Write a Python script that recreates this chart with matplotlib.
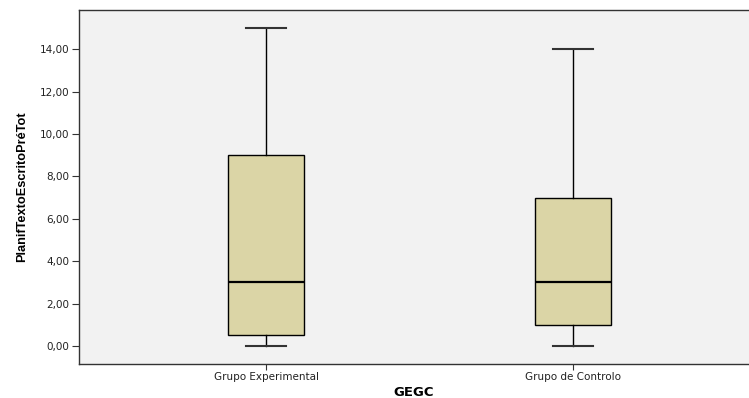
import matplotlib
matplotlib.use('Agg')
import matplotlib.pyplot as plt

# dados
grupos = ['Grupo Experimental', 'Grupo de Controlo']
minimos = [0, 0]
q1 = [0.5, 1]
medianas = [3, 3]
q3 = [9, 7]
maximos = [15, 14]
yticks = [0, 2, 4, 6, 8, 10, 12, 14]
ytick_labels = ['0,00', '2,00', '4,00', '6,00', '8,00', '10,00', '12,00', '14,00']

fam = ['DejaVu Sans']
fam2 = ['Liberation Sans', 'DejaVu Sans']

stats = []
for i in range(len(grupos)):
    stats.append({'med': medianas[i], 'q1': q1[i], 'q3': q3[i],
                  'whislo': minimos[i], 'whishi': maximos[i], 'fliers': []})

fig = plt.figure(figsize=(7.49, 3.98), dpi=100)
ax = fig.add_axes([0.1055, 0.0854, 0.8945, 0.8895])
ax.set_facecolor('#f2f2f2')

ax.bxp(stats, positions=[1, 2], widths=0.248, patch_artist=True, showfliers=False,
       boxprops=dict(facecolor='#dbd5a6', edgecolor='black', linewidth=1),
       medianprops=dict(color='black', linewidth=1.6),
       whiskerprops=dict(color='black', linewidth=1),
       capprops=dict(color='#333333', linewidth=1.5), capwidths=0.13)

ax.set_xlim(0.391, 2.573)
ax.set_ylim(-0.85, 15.85)
ax.set_yticks(yticks)
ax.set_yticklabels(ytick_labels, family=fam, fontsize=7.5, color='#222222')
ax.set_xticks([1, 2])
ax.set_xticklabels(grupos, family=fam, fontsize=7.5, color='#222222')
ax.tick_params(axis='y', direction='out', length=5, width=0.8, color='#333333', pad=2)
ax.tick_params(axis='x', direction='out', length=4, width=0.8, color='#333333', pad=1.5)

for s in ['left', 'bottom', 'top']:
    ax.spines[s].set_color('#333333')
    ax.spines[s].set_linewidth(1)
ax.spines['right'].set_visible(False)

ax.set_ylabel('PlanifTextoEscritoPréTot', family=fam2, fontsize=9.2, fontweight='bold')
ax.yaxis.set_label_coords(-0.076, 0.5)
ax.set_xlabel('GEGC', family=fam, fontsize=9.5, fontweight='bold')
ax.xaxis.set_label_coords(0.5, -0.062)

plt.savefig('out.png', dpi=100)
